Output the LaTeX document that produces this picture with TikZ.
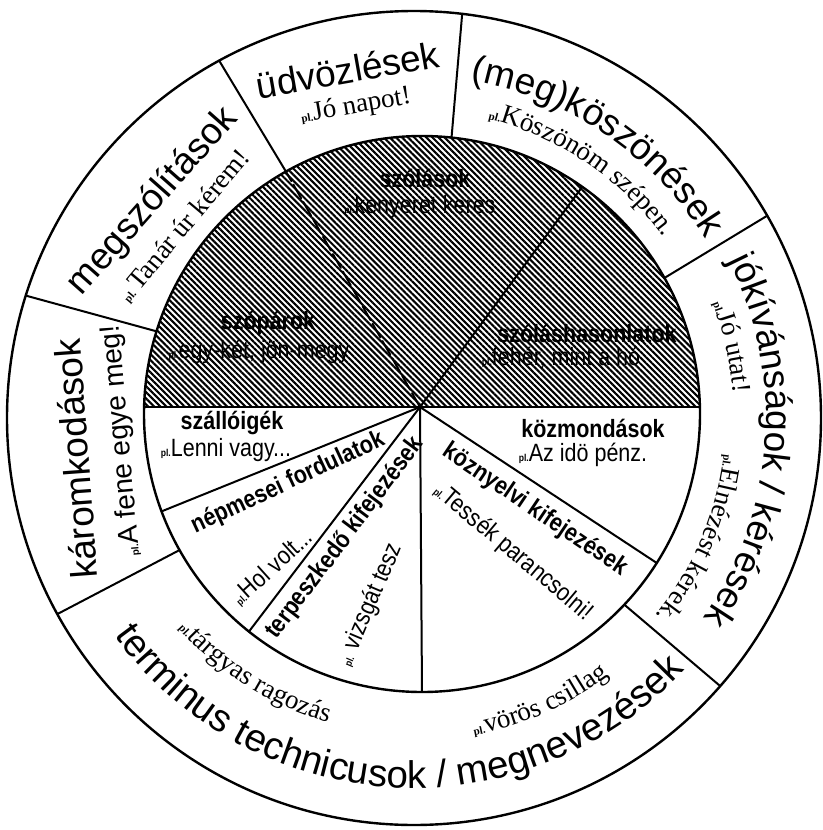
\documentclass[tikz,border=0pt]{standalone}
\usepackage{fontspec}
\setmainfont{Liberation Serif}
\newfontfamily\labfam{Liberation Sans}
\newfontfamily\narfam[FakeStretch=0.86]{Liberation Sans}
\usetikzlibrary{decorations.text,patterns.meta}

\newcommand\LabF{\normalfont\labfam\fontsize{37}{40}\selectfont}
\newcommand\LabFb{\normalfont\labfam\fontsize{38.5}{40}\selectfont}
\newcommand\ExF{\normalfont\rmfamily\fontsize{27}{30}\selectfont}
\newcommand\PlF{\normalfont\rmfamily\bfseries\fontsize{11}{12}\selectfont}
\newcommand\ExSans{\normalfont\labfam\fontsize{28}{30}\selectfont}
\newcommand\PlSans{\normalfont\labfam\bfseries\fontsize{10}{12}\selectfont}
\newcommand\InB{\narfam\bfseries\fontsize{25}{28}\selectfont}
\newcommand\InR{\narfam\fontsize{25}{28}\selectfont}
\newcommand\InPl{\narfam\bfseries\fontsize{10}{12}\selectfont}

% text along a clockwise arc (letter tops outward), centred on angle #1
\newcommand\cwtext[4]{%
  \path[shift={(414,-418)}, decorate,
    decoration={text along path, text align=center, text={#4}}]
    ({#1+#3}:#2) arc[start angle={#1+#3}, end angle={#1-#3}, radius=#2];}
% text along a counter-clockwise arc (letter tops inward)
\newcommand\ccwtext[4]{%
  \path[shift={(414,-418)}, decorate,
    decoration={text along path, text align=center, text={#4}}]
    ({#1-#3}:#2) arc[start angle={#1-#3}, end angle={#1+#3}, radius=#2];}

\begin{document}
\begin{tikzpicture}[x=1pt,y=1pt,line cap=round,
  ring/.style={line width=2.4pt},
  div/.style={line width=2pt},
  hatch/.style={pattern={Lines[angle=-45,distance=4.3pt,line width=2.1pt]}},
  inb/.style={font=\InB, inner sep=0pt},
  inr/.style={font=\InR, inner sep=0pt},
  lab/.style={font=\LabF, inner sep=0pt, anchor=base},
  ex/.style={font=\ExF, inner sep=0pt, anchor=base},
  exs/.style={font=\ExSans, inner sep=0pt, anchor=base}]
\useasboundingbox (0,0) rectangle (822,-830);

\coordinate (O1) at (414,-418);
\coordinate (O2) at (422,-414);
\coordinate (A)  at (420,-407);

% chord ends
\coordinate (hr) at ([shift={(1.44:278)}]O2);
\coordinate (hl) at ([shift={(178.56:278)}]O2);

% hatched upper half of the inner disc
\fill[hatch] (hr) arc[start angle=1.44, end angle=178.56, radius=278] -- cycle;

% circles
\draw[ring] (O1) circle[radius=407];
\draw[ring] (O2) circle[radius=278];
\draw[div] (hl) -- (hr);

% outer ring dividers
\coordinate (di1) at ([shift={(119.3:278)}]O2); \coordinate (do1) at ([shift={(118.6:407)}]O1);
\coordinate (di2) at ([shift={(83.9:278)}]O2);  \coordinate (do2) at ([shift={(83.2:407)}]O1);
\coordinate (di3) at ([shift={(29.3:278)}]O2);  \coordinate (do3) at ([shift={(29.8:407)}]O1);
\coordinate (di4) at ([shift={(-43.3:278)}]O2); \coordinate (do4) at ([shift={(-41.2:407)}]O1);
\coordinate (di5) at ([shift={(209.3:278)}]O2); \coordinate (do5) at ([shift={(208.8:407)}]O1);
\coordinate (di6) at ([shift={(162.7:278)}]O2); \coordinate (do6) at ([shift={(162.5:407)}]O1);
\foreach \i in {1,...,6} {\draw[div] (di\i) -- (do\i);}

% inner radial lines
\coordinate (s1) at ([shift={(54.8:278)}]O2);
\coordinate (l1) at ([shift={(200.5:278)}]O2);
\coordinate (l2) at ([shift={(231.5:278)}]O2);
\coordinate (l3) at ([shift={(270:278)}]O2);
\coordinate (l4) at ([shift={(327.6:278)}]O2);
\draw[div, dash pattern=on 16pt off 4pt] (A) -- (di1);
\draw[div] (A) -- (s1);
\draw[div] (A) -- (l1);
\draw[div] (A) -- (l2);
\draw[div] (A) -- (l3);
\draw[div] (A) -- (l4);

% inner labels
\node[inb] (szolasok) at (425,-178) {szólások};
\node[inr] (szolasokpl) at (420,-207) {{\InPl pl.}kenyeret keres};
\node[inb] (szoparok) at (268,-323) {szópárok};
\node[inr] (szoparokpl) at (259,-352) {{\InPl pl.}egy-két, jön-megy};
\node[inb] (hason) at (587,-333) {szóláshasonlatok};
\node[inr] (hasonpl) at (561,-358) {{\InPl pl.}fehér, mint a hó};
\node[inb] (szallo) at (232,-423) {szállóigék};
\node[inr] (szallopl) at (226,-450) {{\InPl pl.}Lenni vagy...};
\node[inb] (kozm) at (593,-428) {közmondások};
\node[inr] (kozmpl) at (583,-455) {{\InPl pl.}Az idö pénz.};
\node[inb, rotate=25] (nepm) at (288,-483) {népmesei fordulatok};
\node[inr, rotate=42] (nepmpl) at (272,-567) {{\InPl pl.}Hol volt...};
\node[inb, rotate=53] (terp) at (345,-538) {terpeszkedő kifejezések};
\node[inr, rotate=67] (terppl) at (370,-605) {{\InPl pl.} vizsgát tesz};
\node[inb, rotate=-34] (kozny) at (535,-510) {köznyelvi kifejezések};
\node[inr, rotate=-40] (koznypl) at (513,-552) {{\InPl pl.}Tessék parancsolni!};

% outer ring labels, straight ones
\node[lab, rotate=94.2] (karom) at (89,-458) {káromkodások};
\node[exs, rotate=95] (karompl) at (129,-440) {{\PlSans pl.}A fene egye meg!};
\node[lab, rotate=48.5] (megsz) at (160,-208) {megszólítások};
\node[ex, rotate=50] (megszpl) at (190,-231) {{\PlF pl. }Tanár úr kérem!};
\node[lab, rotate=10] (udv) at (350,-83) {üdvözlések};
\node[ex, rotate=10] (udvpl) at (357,-113) {{\PlF pl.}Jó napot!};

% outer ring labels, curved ones
\cwtext{56}{342}{40}{|\LabF|(meg)köszönések}
\cwtext{56}{308}{40}{|\PlF|pl.|\ExF|Köszönöm szépen.}
\cwtext{-4}{352}{50}{|\LabF|jókívánságok / kérések}
\cwtext{12.7}{320}{20}{|\PlF|pl.|\ExF|Jó utat!}
\cwtext{-23}{312}{30}{|\PlF|pl.|\ExF|Elnézést kérek.}
\ccwtext{266.5}{370}{60}{|\LabFb|terminus technicusok / megnevezések}
\ccwtext{238}{316}{30}{|\PlF|pl.|\ExF|tárgyas ragozás}
\ccwtext{294}{323}{25}{|\PlF|pl.|\ExF|vörös csillag}
\end{tikzpicture}
\end{document}
